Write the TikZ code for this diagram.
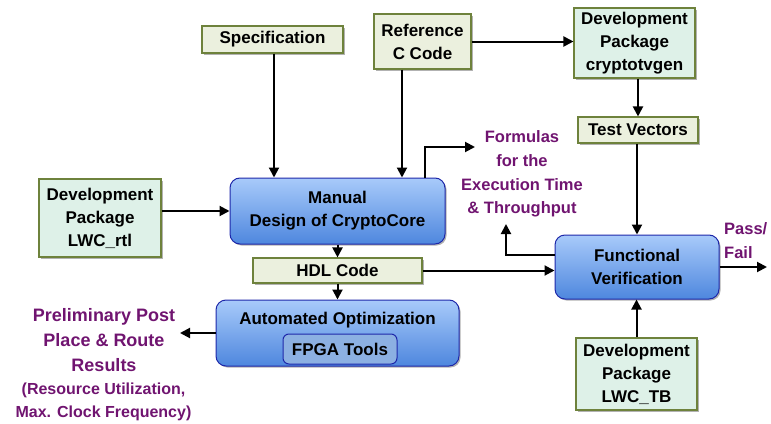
\documentclass[tikz,border=0pt]{standalone}
\usepackage{fontspec}
\setmainfont{Liberation Sans}
\usetikzlibrary{arrows.meta,shadows}
\definecolor{olivebd}{RGB}{110,130,60}
\definecolor{beigefill}{RGB}{235,240,222}
\definecolor{mintfill}{RGB}{222,241,232}
\definecolor{bluebd}{RGB}{30,40,170}
\definecolor{bluetop}{RGB}{168,202,250}
\definecolor{bluebot}{RGB}{78,135,222}
\definecolor{fpgafill}{RGB}{140,176,226}
\definecolor{purp}{RGB}{112,20,112}
\tikzset{
  shad/.style={drop shadow={shadow xshift=1.5pt,shadow yshift=-1.5pt,opacity=0.3,fill=black}},
  gbox/.style={draw=olivebd, line width=1.1pt, fill=beigefill, inner sep=0pt, align=center,
     font=\fontsize{17}{23}\selectfont\bfseries, shad},
  mbox/.style={gbox, fill=mintfill},
  rbox/.style={draw=bluebd, line width=1pt, rounded corners=10pt, top color=bluetop, bottom color=bluebot,
     inner sep=0pt, align=center, font=\fontsize{17}{23}\selectfont\bfseries, shad},
  ptext/.style={text=purp, align=center, inner sep=0pt},
  arr/.style={line width=2pt, -{Triangle[length=10pt,width=10pt]}}
}
\begin{document}
\begin{tikzpicture}[x=1pt,y=-1pt]
\useasboundingbox (0,0) rectangle (771,423);
% boxes
\node[gbox, minimum width=141pt, minimum height=27pt] (spec) at (272.5,39.5) {Specification};
\node[gbox, minimum width=97pt, minimum height=55pt] (ref) at (422.5,41.5) {Reference\\C Code};
\node[mbox, minimum width=121pt, minimum height=70pt] (crypt) at (634.5,43) {Development\\Package\\cryptotvgen};
\node[gbox, minimum width=120pt, minimum height=26pt] (tv) at (638,130) {Test Vectors};
\node[mbox, minimum width=122pt, minimum height=78pt] (rtl) at (100,218) {Development\\Package\\LWC\_rtl};
\node[rbox, minimum width=215pt, minimum height=66pt] (manual) at (337.5,211) {Manual\\Design of CryptoCore};
\node[gbox, minimum width=169pt, minimum height=25pt] (hdl) at (337.5,270.5) {HDL Code};
\node[rbox, minimum width=243pt, minimum height=66pt] (auto) at (337.5,333) {};
\node[font=\fontsize{17}{23}\selectfont\bfseries, inner sep=0pt] (autot) at (337.5,320) {Automated Optimization};
\node[draw=bluebd, line width=1pt, rounded corners=6pt, fill=fpgafill, minimum width=114pt, minimum height=30pt,
  inner sep=0pt, font=\fontsize{17}{23}\selectfont\bfseries] (fpga) at (340,349) {FPGA Tools};
\node[rbox, minimum width=164pt, minimum height=64pt] (func) at (637,267) {Functional\\Verification};
\node[mbox, minimum width=121pt, minimum height=72pt] (tb) at (636.5,374) {Development\\Package\\LWC\_TB};
% texts
\node[ptext, font=\fontsize{16.5}{23.7}\selectfont\bfseries] (form) at (522,174) {Formulas\\for the\\Execution Time\\\& Throughput};
\node[ptext, align=left, anchor=west, font=\fontsize{16.5}{24}\selectfont\bfseries] (pass) at (724,241) {Pass/\\Fail};
\node[ptext, font=\fontsize{18}{25}\selectfont\bfseries] (prelim) at (104,340) {Preliminary Post\\Place \& Route\\Results};
\node[ptext, font=\fontsize{16}{23}\selectfont\bfseries] (prelimsub) at (103.5,401.5) {(Resource Utilization,\\Max. Clock Frequency)};
% free ends
\coordinate (fa) at (475,147);
\coordinate (fb) at (506,224);
\coordinate (pf) at (767,0);
\coordinate (pr) at (180,0);
% connectors
\draw[arr] ([xshift=1.5pt]spec.south) -- ([xshift=1.5pt]spec.south |- manual.north);
\draw[arr] ([xshift=-20.5pt]ref.south) -- ([xshift=-20.5pt]ref.south |- manual.north);
\draw[arr] (ref.east) -- (ref.east -| crypt.west);
\draw[arr] (tv.north |- crypt.south) -- (tv.north);
\draw[arr] ([xshift=-1pt]tv.south) -- ([xshift=-1pt]tv.south |- func.north);
\draw[arr] (manual.west -| rtl.east) -- (manual.west);
\draw[arr] ([xshift=87.5pt]manual.north) |- (fa);
\draw[arr] (manual.south) -- (hdl.north);
\draw[arr] (hdl.south) -- (auto.north);
\draw[arr] (hdl.east) -- (hdl.east -| func.west);
\draw[arr] ([yshift=12pt]func.west) -| (fb);
\draw[arr] (func.east) -- (func.east -| pf);
\draw[arr] (tb.north) -- (tb.north |- func.south);
\draw[arr] (auto.west) -- (auto.west -| pr);
\end{tikzpicture}
\end{document}
